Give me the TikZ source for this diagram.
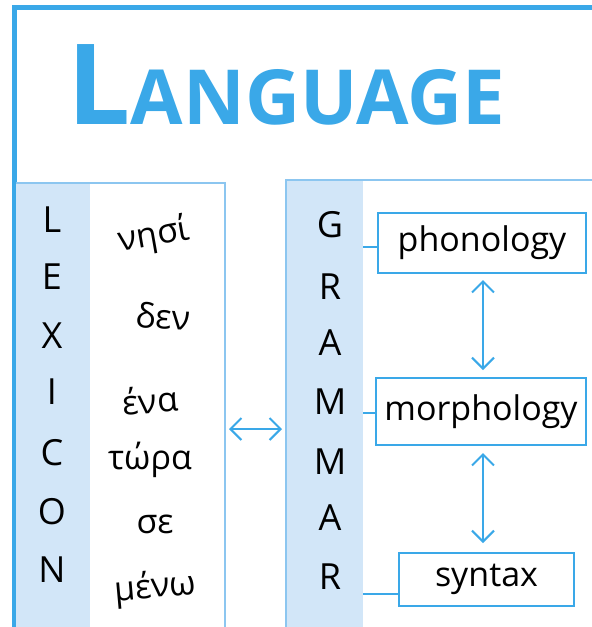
\documentclass[tikz,border=0pt]{standalone}
\usepackage{fontspec}
\setmainfont{Open Sans}
\usetikzlibrary{arrows.meta}
\definecolor{frameblue}{HTML}{3AA8E8}
\definecolor{panelfill}{HTML}{D2E6F8}
\definecolor{panelline}{HTML}{8CC6F0}
\tikzset{
  letter/.style={font=\fontsize{36}{36}\selectfont, anchor=center},
  word/.style={font=\fontsize{34}{34}\selectfont, anchor=center},
  topic/.style={draw=frameblue, line width=2.5pt, minimum height=#1, inner sep=0pt, font=\fontsize{34}{34}\selectfont},
  link/.style={draw=frameblue, line width=2pt},
  twoway/.style={draw=frameblue, line width=2pt, {Straight Barb[length=11pt,width=22pt,line width=2pt]}-{Straight Barb[length=11pt,width=22pt,line width=2pt]}}
}
\begin{document}
\begin{tikzpicture}[x=1pt,y=-1pt]
\useasboundingbox (0,0) rectangle (592,627);
\fill[white] (0,0) rectangle (592,627);
% outer frame
\draw[frameblue, line width=5pt] (14,640) -- (14,7.5) -- (600,7.5);
% title
\node[text=frameblue, anchor=base west, font=\bfseries] (title) at (64,124)
  {\fontsize{112}{112}\selectfont L\fontsize{76}{76}\selectfont ANGUAGE};
% lexicon panel
\fill[panelfill] (16,183) rectangle (90,640);
\draw[panelline, line width=2pt] (16,183) -- (225,183) -- (225,640);
% grammar panel
\fill[panelfill] (286,180) rectangle (363,640);
\draw[panelline, line width=2pt] (286,640) -- (286,180) -- (600,180);
% LEXICON letters
\node[letter] (l1) at (52,220) {L};
\node[letter] (l2) at (52,277) {E};
\node[letter] (l3) at (52,336) {X};
\node[letter] (l4) at (52,392) {I};
\node[letter] (l5) at (52,453) {C};
\node[letter] (l6) at (52,512) {O};
\node[letter] (l7) at (52,570) {N};
% greek words
\node[word, rotate=10] (w1) at (154,236) {νησί};
\node[word, rotate=-3] (w2) at (163,316) {δεν};
\node[word, rotate=5] (w3) at (150,400) {ένα};
\node[word] (w4) at (150,460) {τώρα};
\node[word] (w5) at (155,524) {σε};
\node[word, rotate=5] (w6) at (155,588) {μένω};
% GRAMMAR letters
\node[letter] (g1) at (330,225) {G};
\node[letter] (g2) at (330,287) {R};
\node[letter] (g3) at (330,343) {A};
\node[letter] (g4) at (330,402) {M};
\node[letter] (g5) at (330,462) {M};
\node[letter] (g6) at (330,518) {A};
\node[letter] (g7) at (330,577) {R};
% topic boxes
\node[topic=60pt, minimum width=208pt] (phon) at (482,243) {phonology};
\node[topic=67pt, minimum width=210pt] (morph) at (481,411.5) {morphology};
\node[topic=53pt, minimum width=175pt] (syn) at (486.5,579.5) {syntax};
% connectors from grammar column
\coordinate (c1) at (363,247);
\coordinate (c2) at (363,413);
\coordinate (c3) at (363,594);
\draw[link] (c1) -- (c1 -| phon.west);
\draw[link] (c2) -- (c2 -| morph.west);
\draw[link] (c3) -- (c3 -| syn.west);
% vertical arrows
\coordinate (a1) at (483,280);
\coordinate (a2) at (483,370);
\coordinate (a3) at (483,453);
\coordinate (a4) at (483,543);
\draw[twoway] (a1) -- (a2);
\draw[twoway] (a3) -- (a4);
% lexicon-grammar arrow
\coordinate (h1) at (229,429);
\coordinate (h2) at (282,429);
\draw[twoway] (h1) -- (h2);
\end{tikzpicture}
\end{document}
